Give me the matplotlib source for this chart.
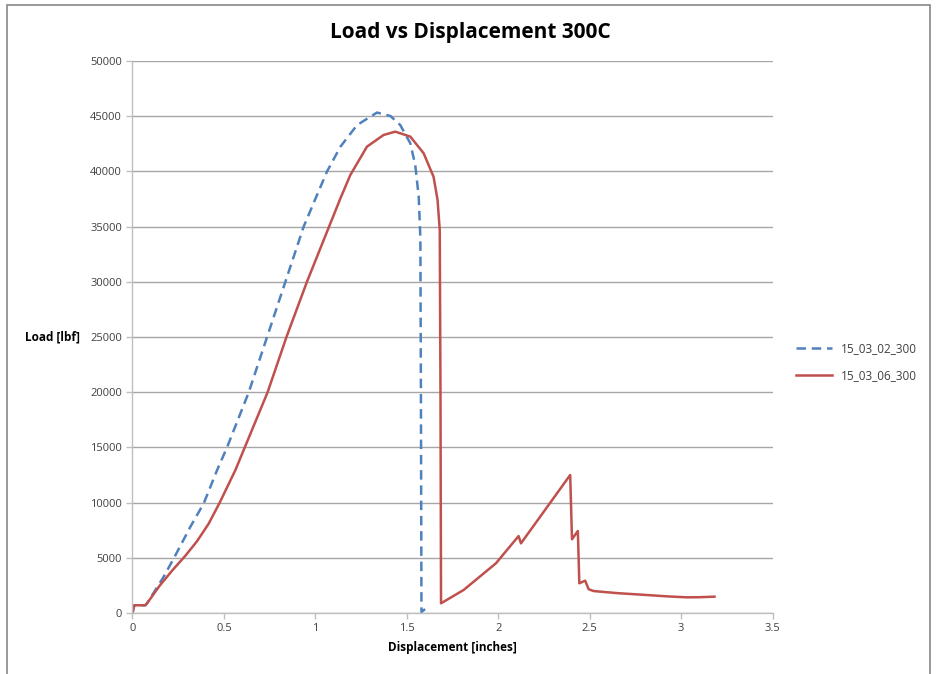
import numpy as np
import matplotlib
matplotlib.use("Agg")
import matplotlib.pyplot as plt
from matplotlib.patches import Rectangle

plt.rcParams['font.family'] = ['Open Sans', 'DejaVu Sans']

# === Data ===
x_02 = [0.0, 0.01, 0.07, 0.08, 0.171, 0.226, 0.317, 0.39, 0.463, 0.517, 0.636,
        0.736, 0.836, 0.936, 1.009, 1.064, 1.137, 1.228, 1.337, 1.41, 1.464,
        1.519, 1.546, 1.565, 1.574, 1.577, 1.580, 1.600]
y_02 = [0, 700, 700, 880, 3290, 4950, 7820, 9940, 12950, 15000, 20000,
        25000, 30000, 35000, 37860, 40000, 42240, 44200, 45330, 45020, 44200,
        42550, 40580, 37710, 34000, 20000, 100, 350]

x_06 = [0.0, 0.01, 0.07, 0.08, 0.15, 0.22, 0.29, 0.353, 0.417, 0.477, 0.563,
        0.614, 0.739, 0.842, 0.954, 1.075, 1.137, 1.191, 1.282, 1.373, 1.437,
        1.519, 1.592, 1.646, 1.668, 1.680, 1.684, 1.687, 1.81, 1.987, 2.111,
        2.124, 2.393, 2.403, 2.435, 2.443, 2.475, 2.494, 2.521, 2.65, 2.812,
        2.93, 3.031, 3.10, 3.182]
y_06 = [0, 700, 700, 880, 2500, 3900, 5200, 6500, 8100, 10000, 12950,
        15000, 20000, 25000, 30000, 35000, 37560, 39670, 42240, 43300, 43600,
        43150, 41640, 39520, 37410, 34700, 20000, 880, 2080, 4500, 6970,
        6310, 12500, 6680, 7430, 2690, 2930, 2150, 1990, 1800, 1630,
        1500, 1420, 1430, 1480]

labels = ['15_03_02_300', '15_03_06_300']
x_ticks = [0, 0.5, 1, 1.5, 2, 2.5, 3, 3.5]
x_tick_labels = ['0', '0.5', '1', '1.5', '2', '2.5', '3', '3.5']
y_ticks = list(range(0, 50001, 5000))

blue = '#4F81BD'
red = '#C0504D'

fig = plt.figure(figsize=(9.36, 6.74), dpi=100)
ax = fig.add_axes([0.1415, 0.0905, 0.684, 0.819])

ax.plot(x_02, y_02, color=blue, lw=1.8, dashes=(3.8, 2.3), label=labels[0])
ax.plot(x_06, y_06, color=red, lw=1.8, label=labels[1])

ax.set_xlim(0, 3.5)
ax.set_ylim(0, 50000)
ax.set_xticks(x_ticks)
ax.set_xticklabels(x_tick_labels)
ax.set_yticks(y_ticks)
ax.yaxis.grid(True, color='#A6A6A6', lw=1.0)
ax.set_axisbelow(True)

for s in ['top', 'right']:
    ax.spines[s].set_visible(False)
for s in ['left', 'bottom']:
    ax.spines[s].set_color('#BFBFBF')
    ax.spines[s].set_linewidth(1.0)
ax.tick_params(axis='both', colors='#BFBFBF', labelcolor='#404040', labelsize=8,
               length=4, width=1.0, direction='out')

# title is centred on the whole chart, not the plot area
fig.text(0.503, 0.952, 'Load vs Displacement 300C', fontsize=15, fontweight='bold',
         ha='center', va='center')
ax.set_xlabel('Displacement [inches]', fontsize=8.5, fontweight='bold', labelpad=5)
ax.set_ylabel('Load [lbf]', fontsize=8.5, fontweight='bold', rotation=0,
              ha='right', va='center', labelpad=7)

leg = ax.legend(loc='center left', bbox_to_anchor=(1.02, 0.455), frameon=False,
                fontsize=8.5, handlelength=3.0, labelspacing=1.2)
for t in leg.get_texts():
    t.set_color('#404040')

# outer chart border
fig.patches.append(Rectangle((0.0075, -0.01), 0.986, 1.0026, transform=fig.transFigure,
                             fill=False, edgecolor='#888888', lw=1.2))

fig.savefig('out.png', dpi=100)
